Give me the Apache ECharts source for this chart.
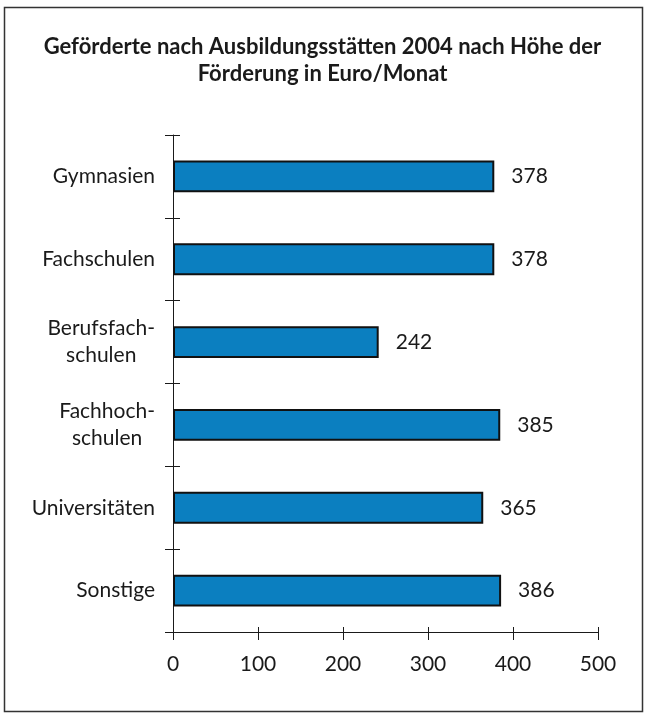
<!DOCTYPE html>
<html>
<head>
<meta charset="utf-8">
<script src="https://cdn.jsdelivr.net/npm/echarts@6/dist/echarts.min.js"></script>
<style>
  html, body { margin: 0; padding: 0; background: #fff; }
  #chart { width: 645px; height: 717px; }
</style>
</head>
<body>
<div id="chart"></div>
<script>
// --- data ---
var categories = ['Gymnasien', 'Fachschulen', 'Berufsfach-\nschulen', 'Fachhoch-\nschulen', 'Universitäten', 'Sonstige'];
var values = [378, 378, 242, 385, 365, 386];
var xTicks = [0, 100, 200, 300, 400, 500];

var TITLE = 'Geförderte nach Ausbildungsstätten 2004 nach Höhe der\nFörderung in Euro/Monat';
var FONT = 'Lato, "Noto Sans", sans-serif';
var INK = '#1a1a1a';
var FS = 21;

var chart = echarts.init(document.getElementById('chart'));

// category labels: multi-line ones are centred as a block, right aligned at the axis
function catLabel(v) {
  return v.split('\n').map(function(s) { return '{c|' + s + '}'; }).join('\n');
}

chart.setOption({
  animation: false,
  title: {
    text: TITLE,
    left: 'center',
    top: 28,
    textStyle: { fontFamily: FONT, fontSize: 22, fontWeight: 'bold', color: INK, lineHeight: 27 }
  },
  graphic: [{
    type: 'rect',
    shape: { x: 4.5, y: 7.5, width: 638, height: 704 },
    style: { fill: 'none', stroke: '#333', lineWidth: 1.5 },
    silent: true
  }],
  grid: { left: 173, right: 47, top: 135, bottom: 85 },
  xAxis: [{
    type: 'value',
    min: xTicks[0],
    max: xTicks[xTicks.length - 1],
    interval: 100,
    axisLine: { show: true, lineStyle: { color: INK, width: 1 } },
    axisTick: { show: true, length: 8, lineStyle: { color: INK } },
    axisLabel: { fontFamily: FONT, fontSize: FS, color: INK, margin: 22 },
    splitLine: { show: false }
  }, {
    type: 'value',
    position: 'bottom',
    min: xTicks[0],
    max: xTicks[xTicks.length - 1],
    interval: 100,
    axisLine: { show: false },
    axisTick: { show: true, inside: true, length: 5, lineStyle: { color: INK } },
    axisLabel: { show: false },
    splitLine: { show: false }
  }],
  yAxis: [{
    type: 'category',
    inverse: true,
    data: categories,
    axisLine: { show: true, lineStyle: { color: INK, width: 1 } },
    axisTick: { show: true, length: 8, lineStyle: { color: INK } },
    axisLabel: {
      fontFamily: FONT, fontSize: FS, color: INK, margin: 18,
      formatter: catLabel,
      rich: { c: { fontFamily: FONT, fontSize: FS, color: INK, align: 'center', lineHeight: 27 } }
    }
  }, {
    type: 'category',
    position: 'left',
    inverse: true,
    data: categories,
    axisLine: { show: false },
    axisTick: { show: true, inside: true, length: 7, lineStyle: { color: INK } },
    axisLabel: { show: false }
  }],
  series: [{
    type: 'bar',
    data: values,
    barWidth: '38.5%',
    itemStyle: { color: '#0b7fc0', borderColor: '#111', borderWidth: 2 },
    label: {
      show: true,
      position: 'right',
      distance: 17,
      fontFamily: FONT,
      fontSize: FS,
      color: INK
    }
  }]
});
</script>
</body>
</html>
